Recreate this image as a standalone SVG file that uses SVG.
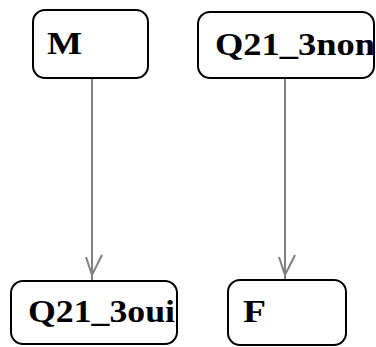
<svg xmlns="http://www.w3.org/2000/svg" width="376" height="347" viewBox="0 0 376 347">
<style>
.box{fill:#fff;stroke:#000;stroke-width:2}
.lbl{font-family:"Liberation Serif","Times New Roman",serif;font-weight:bold;font-size:31px;fill:#000}
.edge{fill:none;stroke:#808080;stroke-width:2}
</style>
<rect width="376" height="347" fill="#fff"/>
<g id="connectors">
<g id="e1"><line class="edge" x1="92" y1="78" x2="92" y2="280"/><polyline class="edge" points="86,257 92,275 102,255"/></g>
<g id="e2"><line class="edge" x1="285" y1="78" x2="285" y2="280"/><polyline class="edge" points="279,257 285,275 295,255"/></g>
</g>
<g id="node-M"><rect class="box" x="33" y="10" width="115" height="68" rx="12"/><text class="lbl" x="47" y="54" textLength="35" lengthAdjust="spacingAndGlyphs">M</text></g>
<g id="node-Q21_3non"><rect class="box" x="198" y="12" width="176" height="66" rx="12"/><text class="lbl" x="215" y="55" textLength="160" lengthAdjust="spacingAndGlyphs">Q21_3non</text></g>
<g id="node-Q21_3oui"><rect class="box" x="11" y="281" width="166" height="63" rx="12"/><text class="lbl" x="28" y="322" textLength="147" lengthAdjust="spacingAndGlyphs">Q21_3oui</text></g>
<g id="node-F"><rect class="box" x="228" y="280" width="118" height="65" rx="12"/><text class="lbl" x="243" y="322" textLength="23" lengthAdjust="spacingAndGlyphs">F</text></g>
</svg>
